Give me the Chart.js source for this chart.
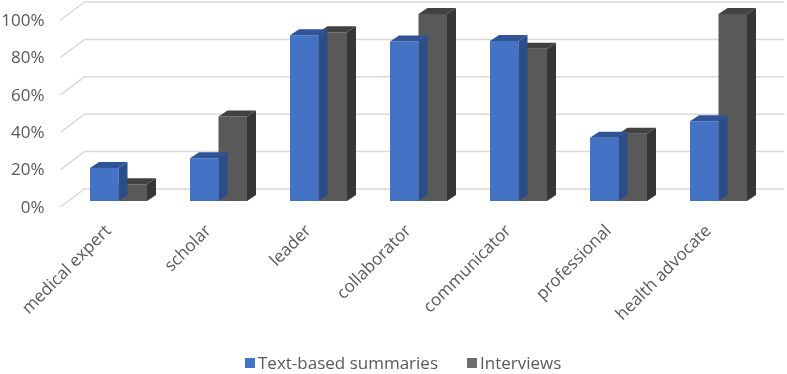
<!DOCTYPE html>
<html>
<head>
<meta charset="utf-8">
<script src="https://cdn.jsdelivr.net/npm/chart.js@4/dist/chart.umd.min.js"></script>
<style>
  html, body { margin: 0; padding: 0; background: #fff; }
  #wrap { position: relative; width: 787px; height: 374px; }
  #legend {
    position: absolute; left: 245px; top: 352px;
    font: 17px "Open Sans", sans-serif; color: #595959;
    display: flex; align-items: center; white-space: nowrap; line-height: 22px;
  }
  #legend .box { width: 10px; height: 10px; margin-right: 3px; }
  #legend .item { display: flex; align-items: center; margin-right: 29px; }
</style>
</head>
<body>
<div id="wrap">
  <canvas id="roles"></canvas>
  <div id="legend"></div>
</div>
<script>
// values (percent)
const categories = ['medical expert', 'scholar', 'leader', 'collaborator', 'communicator', 'professional', 'health advocate'];
const textSummaries = [17.6, 22.8, 88.6, 85.3, 85.5, 33.8, 42.7];
const interviews = [8.9, 45.2, 90.3, 100, 81.4, 36, 100];
const yTicks = [0, 20, 40, 60, 80, 100];

// depth offsets, relative to the front plane of the bars
const WALL_FRONT = { dx: -8, dy: 6 };
const WALL_BACK = { dx: 16, dy: -12 };
const BAR_DEPTH = { dx: 9, dy: -6 };

const textColor = '#595959';
Chart.defaults.font.family = '"Open Sans", sans-serif';
Chart.defaults.font.size = 17;
Chart.defaults.color = textColor;

// back wall gridlines plus the little left wall diagonals
const wall3d = {
  id: 'wall3d',
  beforeDatasetsDraw(chart) {
    const { ctx, chartArea } = chart;
    const y = chart.scales.y;
    ctx.save();
    ctx.strokeStyle = '#d9d9d9';
    ctx.lineWidth = 1.5;
    yTicks.forEach(v => {
      const py = y.getPixelForValue(v);
      ctx.beginPath();
      ctx.moveTo(chartArea.left + WALL_FRONT.dx, py + WALL_FRONT.dy);
      ctx.lineTo(chartArea.left + WALL_BACK.dx, py + WALL_BACK.dy);
      ctx.lineTo(chartArea.right + WALL_BACK.dx, py + WALL_BACK.dy);
      ctx.stroke();
    });
    ctx.restore();
  },
  // top and side faces, drawn per dataset so the next series covers them
  afterDatasetDraw(chart, args) {
    const ctx = chart.ctx;
    const ds = chart.data.datasets[args.index];
    ctx.save();
    args.meta.data.forEach(bar => {
      const { x, y, base, width } = bar.getProps(['x', 'y', 'base', 'width'], true);
      const l = x - width / 2, r = x + width / 2;
      ctx.fillStyle = ds.sideColor;
      ctx.beginPath();
      ctx.moveTo(r, y);
      ctx.lineTo(r + BAR_DEPTH.dx, y + BAR_DEPTH.dy);
      ctx.lineTo(r + BAR_DEPTH.dx, base + BAR_DEPTH.dy);
      ctx.lineTo(r, base);
      ctx.closePath();
      ctx.fill();
      ctx.fillStyle = ds.topColor;
      ctx.beginPath();
      ctx.moveTo(l, y);
      ctx.lineTo(l + BAR_DEPTH.dx, y + BAR_DEPTH.dy);
      ctx.lineTo(r + BAR_DEPTH.dx, y + BAR_DEPTH.dy);
      ctx.lineTo(r, y);
      ctx.closePath();
      ctx.fill();
    });
    ctx.restore();
  }
};

// simple html legend, built from the datasets
const htmlLegend = {
  id: 'htmlLegend',
  afterUpdate(chart) {
    const el = document.getElementById('legend');
    el.innerHTML = '';
    chart.data.datasets.forEach(ds => {
      const item = document.createElement('span');
      item.className = 'item';
      const box = document.createElement('span');
      box.className = 'box';
      box.style.background = ds.legendColor || ds.backgroundColor;
      const txt = document.createElement('span');
      txt.textContent = ds.label;
      item.appendChild(box);
      item.appendChild(txt);
      el.appendChild(item);
    });
  }
};

new Chart(document.getElementById('roles'), {
  type: 'bar',
  data: {
    labels: categories,
    datasets: [{
      label: 'Text-based summaries',
      data: textSummaries,
      backgroundColor: '#4472c4',
      topColor: '#2f5597',
      sideColor: '#2b4d8a',
      barPercentage: 1,
      categoryPercentage: 0.57
    }, {
      label: 'Interviews',
      data: interviews,
      backgroundColor: '#595959',
      legendColor: '#6f6f6f',
      topColor: '#424242',
      sideColor: '#363636',
      barPercentage: 1,
      categoryPercentage: 0.57
    }]
  },
  plugins: [wall3d, htmlLegend],
  options: {
    responsive: true,
    maintainAspectRatio: false,
    animation: false,
    layout: { padding: { top: 14, right: 18.5, left: 0, bottom: 0 } },
    plugins: {
      tooltip: { enabled: false },
      legend: { display: false }
    },
    scales: {
      x: {
        grid: { display: false },
        border: { display: false },
        ticks: { autoSkip: false, minRotation: 45, maxRotation: 45, padding: 12, labelOffset: -10 },
        afterFit(scale) { scale.height = 173; }
      },
      y: {
        min: 0,
        max: 100,
        grid: { display: false, drawTicks: false },
        border: { display: false },
        afterBuildTicks(scale) { scale.ticks = yTicks.map(v => ({ value: v })); },
        ticks: { padding: 24, labelOffset: 7, callback: v => v + '%' },
        afterFit(scale) {
          scale.width = 68.5;
          scale.paddingTop = 0;
          scale.paddingBottom = 0;
        }
      }
    }
  }
});
</script>
</body>
</html>
